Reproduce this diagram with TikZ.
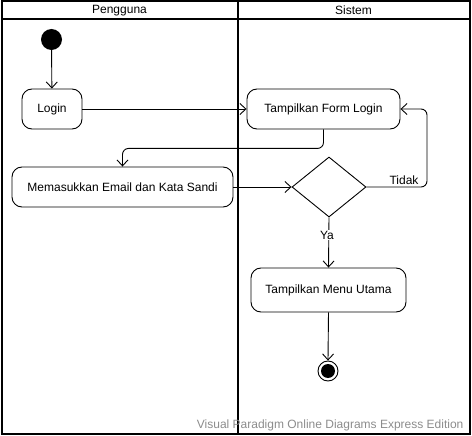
\documentclass[tikz,border=0pt]{standalone}
\usepackage{fontspec}
\setmainfont{Liberation Sans}
\usetikzlibrary{arrows.meta,shapes.geometric}
\begin{document}
\begin{tikzpicture}[x=1pt,y=-1pt,
  act/.style={draw,rounded corners=10pt,line width=0.9pt,minimum height=40pt,inner sep=0pt,font=\fontsize{12}{14}\selectfont},
  flow/.style={draw,line width=0.9pt,-{Straight Barb[length=6pt,width=11pt,line width=0.9pt]}},
  lane/.style={draw,line width=2pt},
  lbl/.style={font=\fontsize{12}{14}\selectfont}]
\useasboundingbox (0,0) rectangle (472,436);
% swimlanes
\draw[lane] (1.5,1.5) rectangle (469.5,433.5);
\draw[lane] (1.5,19.5) -- (469.5,19.5);
\draw[lane] (237.5,1.5) -- (237.5,433.5);
\node[lbl] (h1) at (119.5,10.5) {Pengguna};
\node[lbl] (h2) at (353.5,10.5) {Sistem};
% nodes
\node[circle,fill=black,minimum size=21pt,inner sep=0pt] (start) at (51.5,39.5) {};
\node[act,minimum width=60pt] (login) at (52,109) {Login};
\node[act,minimum width=153pt] (form) at (323.5,109) {Tampilkan Form Login};
\node[act,minimum width=221pt] (input) at (122.5,187) {Memasukkan Email dan Kata Sandi};
\node[diamond,draw,line width=0.9pt,minimum width=74pt,minimum height=60pt,inner sep=0pt] (dec) at (329,187) {};
\node[act,minimum width=155pt,minimum height=44pt] (menu) at (328.5,290) {Tampilkan Menu Utama};
\node[circle,draw,line width=0.9pt,minimum size=20pt,inner sep=0pt] (end) at (328,371) {};
\node[circle,fill=black,minimum size=14pt,inner sep=0pt] (endin) at (end.center) {};
% connectors
\draw[flow] (start) -- (login);
\draw[flow] (login) -- (form);
\draw[flow,rounded corners=6pt] (form.south) -- ++(0,19) -| (input.north);
\draw[flow] (input) -- (dec.west);
\draw[flow,rounded corners=6pt] (dec.east) -- (427,187) |- (form.east);
\draw[flow] (dec.south) -- (menu.north);
\draw[flow] (menu.south) -- (end.north);
\node[lbl,anchor=base west] (tidak) at (386,184) {Tidak};
\node[lbl,fill=white,inner sep=0.5pt] (ya) at (327,235) {Ya};
\node[font=\fontsize{12}{14}\selectfont,text=black!45,anchor=base east] (wm) at (467,428) {Visual Paradigm Online Diagrams Express Edition};
\end{tikzpicture}
\end{document}
